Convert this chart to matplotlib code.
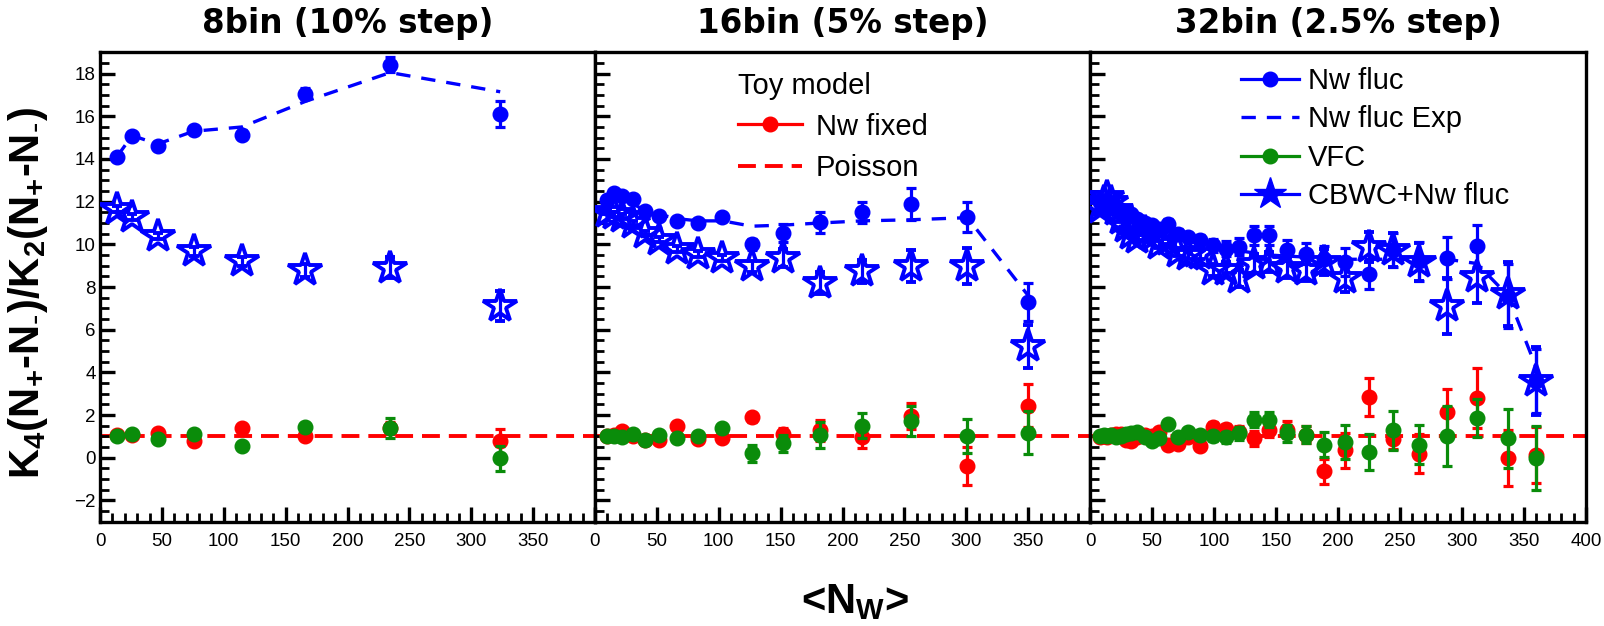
import matplotlib
matplotlib.use('Agg')
import matplotlib.pyplot as plt
from matplotlib.lines import Line2D
from matplotlib.ticker import MultipleLocator
import numpy as np

plt.rcParams['font.family'] = ['Liberation Sans', 'DejaVu Sans']
plt.rcParams['mathtext.default'] = 'regular'

# ---------------- data ----------------
titles = ["8bin (10% step)", "16bin (5% step)", "32bin (2.5% step)"]

# 8 bins
x8 = [13.6, 26, 46.5, 75.6, 114.6, 166, 234.5, 323.4]
fluc8 = [14.1, 15.06, 14.63, 15.34, 15.14, 17.06, 18.42, 16.12]
fluc8_err = [0.15, 0.15, 0.15, 0.15, 0.2, 0.25, 0.35, 0.6]
exp8 = [14.1, 15.1, 14.7, 15.3, 15.5, 16.7, 18.05, 17.15]
cbwc8 = [11.66, 11.28, 10.4, 9.67, 9.2, 8.78, 8.9, 7.1]
cbwc8_err = [0.15, 0.15, 0.15, 0.2, 0.2, 0.3, 0.5, 0.7]
fixed8 = [1.07, 1.07, 1.15, 0.76, 1.39, 1.02, 1.39, 0.76]
fixed8_err = [0.05, 0.05, 0.06, 0.08, 0.1, 0.15, 0.3, 0.6]
vfc8 = [1.0, 1.12, 0.87, 1.12, 0.57, 1.46, 1.39, -0.03]
vfc8_err = [0.05, 0.05, 0.06, 0.08, 0.1, 0.15, 0.45, 0.6]

# 16 bins
x16 = [9.4, 15.4, 22.2, 30.4, 40, 52, 66.6, 83.5, 103, 126.6, 151.7, 182, 215.7, 255, 301, 350]
fluc16 = [12.09, 12.4, 12.25, 12.12, 11.55, 11.34, 11.08, 11.0, 11.28, 10.0, 10.53, 11.03, 11.5, 11.9, 11.27, 7.3]
fluc16_err = [0.1, 0.1, 0.1, 0.1, 0.1, 0.1, 0.12, 0.15, 0.15, 0.25, 0.4, 0.5, 0.5, 0.75, 0.7, 0.9]
exp16 = [12.0, 12.1, 12.0, 11.9, 11.6, 11.4, 11.2, 11.1, 11.1, 10.85, 10.9, 11.0, 11.1, 11.15, 11.25, 7.6]
cbwc16 = [11.5, 11.4, 11.3, 11.0, 10.53, 10.22, 9.78, 9.56, 9.36, 8.97, 9.36, 8.19, 8.73, 8.97, 8.97, 5.22]
cbwc16_err = [0.1, 0.1, 0.1, 0.1, 0.1, 0.1, 0.12, 0.15, 0.15, 0.25, 0.4, 0.5, 0.55, 0.75, 0.85, 1.0]
fixed16 = [1.0, 1.07, 1.23, 1.0, 0.83, 0.83, 1.5, 0.87, 0.91, 1.89, 1.1, 1.28, 0.96, 1.94, -0.39, 2.44]
fixed16_err = [0.05, 0.05, 0.05, 0.05, 0.06, 0.07, 0.08, 0.1, 0.12, 0.2, 0.3, 0.5, 0.5, 0.6, 0.9, 1.0]
vfc16 = [1.0, 1.02, 0.96, 1.12, 0.83, 1.07, 0.91, 1.0, 1.39, 0.2, 0.68, 1.07, 1.5, 1.7, 1.0, 1.18]
vfc16_err = [0.05, 0.05, 0.05, 0.05, 0.06, 0.07, 0.08, 0.1, 0.12, 0.4, 0.4, 0.6, 0.6, 0.7, 0.8, 1.0]

# 32 bins
x32 = [8, 11, 14, 17, 21, 25, 29, 33, 38, 44, 50, 56, 63, 71, 79, 88.5,
       99, 110, 120, 132, 144, 159, 174, 189, 206, 225, 244, 265, 288, 312, 337, 360]
fluc32 = [12.0, 12.0, 11.9, 11.8, 11.7, 11.6, 11.5, 11.4, 11.2, 11.0, 10.9, 10.7, 10.97, 10.5, 10.34, 10.19,
          9.95, 9.8, 9.88, 10.42, 10.42, 9.72, 9.56, 9.3, 9.17, 8.62, 9.75, 9.2, 9.36, 9.92, 7.6, 3.6]
fluc32_err = [0.1, 0.1, 0.1, 0.1, 0.1, 0.1, 0.12, 0.12, 0.12, 0.15, 0.15, 0.15, 0.2, 0.2, 0.2, 0.25,
              0.3, 0.35, 0.4, 0.45, 0.45, 0.5, 0.5, 0.6, 0.65, 0.7, 0.8, 0.9, 1.0, 1.0, 1.5, 1.5]
exp32 = [12.0, 11.9, 11.8, 11.7, 11.6, 11.5, 11.3, 11.2, 11.0, 10.8, 10.7, 10.6, 10.5, 10.3, 10.2, 10.0,
         9.9, 9.8, 9.7, 9.6, 9.5, 9.45, 9.4, 9.35, 9.3, 9.3, 9.3, 9.3, 9.3, 9.1, 7.6, 4.2]
cbwc32 = [11.7, 12.0, 12.2, 12.0, 11.6, 11.2, 10.8, 10.5, 10.3, 10.6, 10.4, 10.0, 10.2, 9.64, 9.5, 9.56,
          8.8, 8.8, 8.4, 9.1, 9.17, 8.9, 8.8, 9.17, 8.4, 9.87, 9.75, 9.17, 7.11, 8.47, 7.69, 3.6]
cbwc32_err = [0.1, 0.1, 0.1, 0.1, 0.1, 0.1, 0.12, 0.12, 0.12, 0.15, 0.15, 0.15, 0.2, 0.2, 0.2, 0.25,
              0.3, 0.35, 0.4, 0.45, 0.45, 0.5, 0.5, 0.6, 0.65, 0.7, 0.8, 0.9, 1.3, 1.2, 1.5, 1.6]
fixed32 = [0.95, 1.0, 0.95, 1.05, 1.1, 1.1, 0.85, 0.8, 0.95, 1.05, 1.0, 1.2, 0.6, 0.65, 0.95, 0.55,
           1.45, 1.35, 1.2, 0.92, 1.31, 1.31, 1.08, -0.64, 0.34, 2.84, 0.89, 0.19, 2.14, 2.8, -0.02, 0.13]
fixed32_err = [0.05, 0.05, 0.05, 0.05, 0.06, 0.06, 0.07, 0.07, 0.08, 0.08, 0.1, 0.1, 0.12, 0.12, 0.15, 0.15,
               0.2, 0.25, 0.3, 0.35, 0.35, 0.4, 0.4, 0.6, 0.8, 0.88, 0.5, 0.9, 1.1, 1.4, 1.3, 1.3]
vfc32 = [1.0, 1.05, 1.0, 1.05, 0.95, 1.0, 1.1, 1.15, 1.2, 0.95, 0.8, 0.9, 1.6, 0.95, 1.2, 1.05,
         1.0, 0.95, 1.15, 1.78, 1.78, 1.15, 1.08, 0.61, 0.73, 0.26, 1.28, 0.61, 1.0, 1.86, 0.9, -0.02]
vfc32_err = [0.05, 0.05, 0.05, 0.05, 0.06, 0.06, 0.07, 0.07, 0.08, 0.08, 0.1, 0.1, 0.12, 0.12, 0.15, 0.15,
             0.2, 0.25, 0.3, 0.35, 0.35, 0.4, 0.4, 0.6, 0.8, 0.86, 0.9, 0.9, 1.4, 0.9, 1.4, 1.5]

panels = [
    (x8, fluc8, fluc8_err, exp8, cbwc8, cbwc8_err, fixed8, fixed8_err, vfc8, vfc8_err),
    (x16, fluc16, fluc16_err, exp16, cbwc16, cbwc16_err, fixed16, fixed16_err, vfc16, vfc16_err),
    (x32, fluc32, fluc32_err, exp32, cbwc32, cbwc32_err, fixed32, fixed32_err, vfc32, vfc32_err),
]

xticks = [0, 50, 100, 150, 200, 250, 300, 350, 400]
yticks = [-2, 0, 2, 4, 6, 8, 10, 12, 14, 16, 18]

BLUE = '#0000ff'
RED = '#ff0000'
GREEN = '#0a8c0a'

# ---------------- figure ----------------
W, H = 1604, 626
fig = plt.figure(figsize=(W / 100, H / 100), dpi=100)
lefts = [100, 595, 1090]
pw = 495
top_px, bot_px = 52.3, 521.7

poisson_dash = (0, (4.6, 2.3))
exp_dash = (0, (4.3, 3.3))

for i, (x, fl, fle, ex, cb, cbe, fx, fxe, vf, vfe) in enumerate(panels):
    ax = fig.add_axes([lefts[i] / W, 1 - bot_px / H, (pw + (1 if i == 2 else 0)) / W, (bot_px - top_px) / H])
    ax.set_xlim(0, 400)
    ax.set_ylim(-3, 19)

    ax.axhline(1, color=RED, ls=poisson_dash, lw=2.8, zorder=1)
    eb = dict(fmt='o', ms=10.5, elinewidth=2.3, capsize=3.5, capthick=2.3, lw=0)
    ax.errorbar(x, fx, yerr=fxe, color=RED, zorder=2, **eb)
    ax.errorbar(x, vf, yerr=vfe, color=GREEN, zorder=3, **eb)
    ax.errorbar(x, fl, yerr=fle, color=BLUE, zorder=4, **eb)
    ax.errorbar(x, cb, yerr=cbe, fmt='*', ms=25, mfc='none', mec=BLUE, mew=2.8,
                color=BLUE, elinewidth=2.3, capsize=3.5, capthick=2.3, lw=0, zorder=5)
    ax.plot(x, ex, color=BLUE, ls=exp_dash, lw=2.4, zorder=6)

    ax.set_xticks(xticks)
    ax.set_xticklabels([str(t) if (t < 400 or i == 2) else '' for t in xticks])
    ax.set_yticks(yticks)
    ax.xaxis.set_minor_locator(MultipleLocator(10))
    ax.yaxis.set_minor_locator(MultipleLocator(0.5))
    ax.tick_params(which='major', direction='in', length=11, width=2.4, labelsize=13.5,
                   top=False, right=False)
    ax.tick_params(which='minor', direction='in', length=6.5, width=2.0, top=False, right=False)
    ax.tick_params(axis='x', pad=8)
    ax.tick_params(axis='y', pad=3)
    if i > 0:
        ax.tick_params(axis='y', labelleft=False)
    for s in ax.spines.values():
        s.set_linewidth(2.4)

    ax.text(0.5, 1.041, titles[i], transform=ax.transAxes, ha='center', va='baseline',
            fontsize=23.5, fontweight='bold', family='DejaVu Sans')

    if i == 1:
        h = [Line2D([], [], color=RED, marker='o', ms=10.5, lw=2.3),
             Line2D([], [], color=RED, ls=poisson_dash, lw=2.8)]
        ax.legend(h, ['Nw fixed', 'Poisson'], title='Toy model', loc='upper left',
                  bbox_to_anchor=(0.26, 0.99), frameon=False, fontsize=21,
                  title_fontsize=21, handlelength=2.2, handletextpad=0.45,
                  labelspacing=0.45, borderpad=0, alignment='left')
    if i == 2:
        h = [Line2D([], [], color=BLUE, marker='o', ms=10.5, lw=2.3),
             Line2D([], [], color=BLUE, ls=exp_dash, lw=2.4),
             Line2D([], [], color=GREEN, marker='o', ms=10.5, lw=2.3),
             Line2D([], [], color=BLUE, marker='*', ms=24, mfc=BLUE, mec=BLUE, lw=2.3)]
        ax.legend(h, ['Nw fluc', 'Nw fluc Exp', 'VFC', 'CBWC+Nw fluc'], loc='upper left',
                  bbox_to_anchor=(0.275, 1.0), frameon=False, fontsize=21,
                  handlelength=2.0, handletextpad=0.3, labelspacing=0.36, borderpad=0)

fig.text(28 / W, 1 - 293 / H, r'K$_4$(N$_{+}$-N$_{\text{-}}$)/K$_2$(N$_{+}$-N$_{\text{-}}$)',
         rotation=90, ha='center', va='center', fontsize=30, fontweight='bold')
fig.text(855 / W, 1 - 602 / H, r'<N$_W$>', ha='center', va='center', fontsize=30,
         fontweight='bold')

fig.savefig('out.png', dpi=100)
